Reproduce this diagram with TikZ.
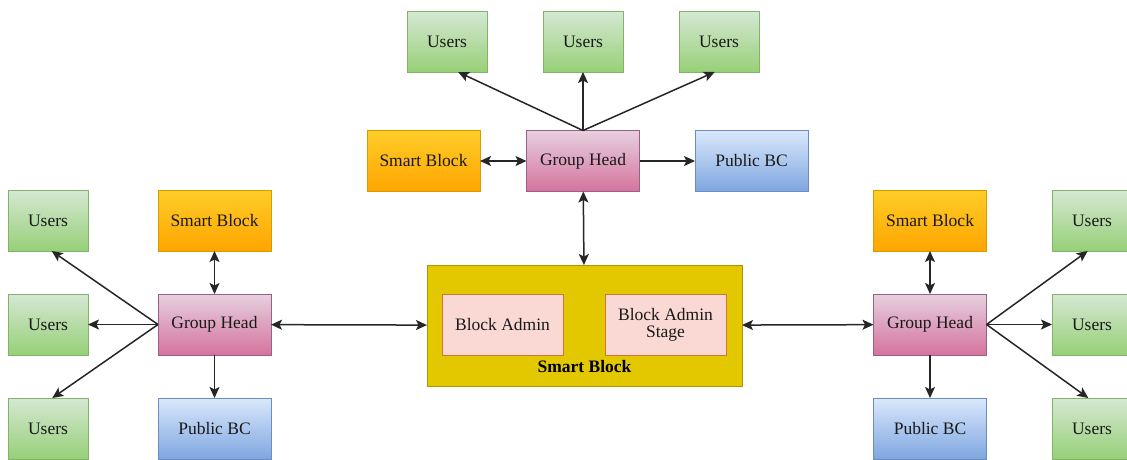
\documentclass[tikz,border=0pt]{standalone}
\usepackage{fontspec}
\setmainfont{Liberation Serif}
\usepackage{tikz}
\usetikzlibrary{arrows.meta,shapes}

\definecolor{usrtop}{HTML}{D5E8D4}
\definecolor{usrbot}{HTML}{97D077}
\definecolor{usrline}{HTML}{82B366}
\definecolor{sbtop}{HTML}{FFCD28}
\definecolor{sbbot}{HTML}{FFA500}
\definecolor{sbline}{HTML}{D79B00}
\definecolor{ghtop}{HTML}{E6D0DE}
\definecolor{ghbot}{HTML}{D5739D}
\definecolor{ghline}{HTML}{996185}
\definecolor{pbtop}{HTML}{DAE8FC}
\definecolor{pbbot}{HTML}{7EA6E0}
\definecolor{pbline}{HTML}{6C8EBF}
\definecolor{boxfill}{HTML}{E3C800}
\definecolor{boxline}{HTML}{B09500}
\definecolor{admfill}{HTML}{FAD9D5}
\definecolor{admline}{HTML}{D0743C}

\begin{document}
\begin{tikzpicture}[x=1pt,y=-1pt,->,>={Stealth[length=11pt,width=10pt,inset=2.5pt]},line width=1.5pt,
  draw=black!85, font=\fontsize{17.5}{19}\selectfont]
\tikzstyle{blk} = [rectangle, draw, line width=0.9pt, inner sep=0pt, outer sep=0pt, text=black!90, minimum height=61pt]
\tikzstyle{users} = [blk, draw=usrline, top color=usrtop, bottom color=usrbot, minimum width=80pt]
\tikzstyle{smart} = [blk, draw=sbline, top color=sbtop, bottom color=sbbot, minimum width=113pt]
\tikzstyle{head} = [blk, draw=ghline, top color=ghtop, bottom color=ghbot, minimum width=113pt]
\tikzstyle{public} = [blk, draw=pbline, top color=pbtop, bottom color=pbbot, minimum width=113pt]
\tikzstyle{admin} = [blk, draw=admline, fill=admfill, minimum width=121pt, align=center]
\useasboundingbox (0,0) rectangle (1127,459);

% top group
\node[users] (UT1) at (447,41.5) {Users};
\node[users] (UT2) at (583,41.5) {Users};
\node[users] (UT3) at (719,41.5) {Users};
\node[smart] (SBT) at (423.5,161) {Smart Block};
\node[head] (GHT) at (583,161) {Group Head};
\node[public] (PBT) at (751.5,161) {Public BC};

% smart block in the middle
\node[blk, draw=boxline, fill=boxfill, minimum width=315pt, minimum height=121pt] (SBC) at (584.5,325.5) {};
\node[admin] (BA) at (502.5,324.5) {Block Admin};
\node[admin] (BAS) at (665.5,324.5) {Block Admin\\[-2pt]Stage};
\node[text=black, font=\fontsize{17.5}{19}\selectfont\bfseries] (SBL) at (584.5,367) {Smart Block};

% left group
\node[users] (UL1) at (48,220.5) {Users};
\node[users] (UL2) at (48,324.5) {Users};
\node[users] (UL3) at (48,428.5) {Users};
\node[smart] (SBL1) at (214.5,220.5) {Smart Block};
\node[head] (GHL) at (214.5,324.5) {Group Head};
\node[public] (PBL) at (214.5,428.5) {Public BC};

% right group
\node[users] (UR1) at (1092,220.5) {Users};
\node[users] (UR2) at (1092,324.5) {Users};
\node[users] (UR3) at (1092,428.5) {Users};
\node[smart] (SBR) at (930,220.5) {Smart Block};
\node[head] (GHR) at (930,324.5) {Group Head};
\node[public] (PBR) at (930,428.5) {Public BC};

\path (GHT.north) edge (UT1.290)
                  edge (UT2.south)
                  edge (UT3.262.5)
      (GHT) edge[<->] (SBT)
            edge (PBT)
            edge[<->] (SBC)
      (GHL.west) edge (UL1.277.5)
                 edge (UL2)
                 edge (UL3.82.5)
      (GHL) edge[<->] (SBL1)
            edge (PBL)
            edge[<->] (SBC)
      (GHR.east) edge (UR1.262.5)
                 edge (UR2)
                 edge (UR3.97.5)
      (GHR) edge[<->] (SBR)
            edge (PBR)
            edge[<->] (SBC);
\end{tikzpicture}
\end{document}
